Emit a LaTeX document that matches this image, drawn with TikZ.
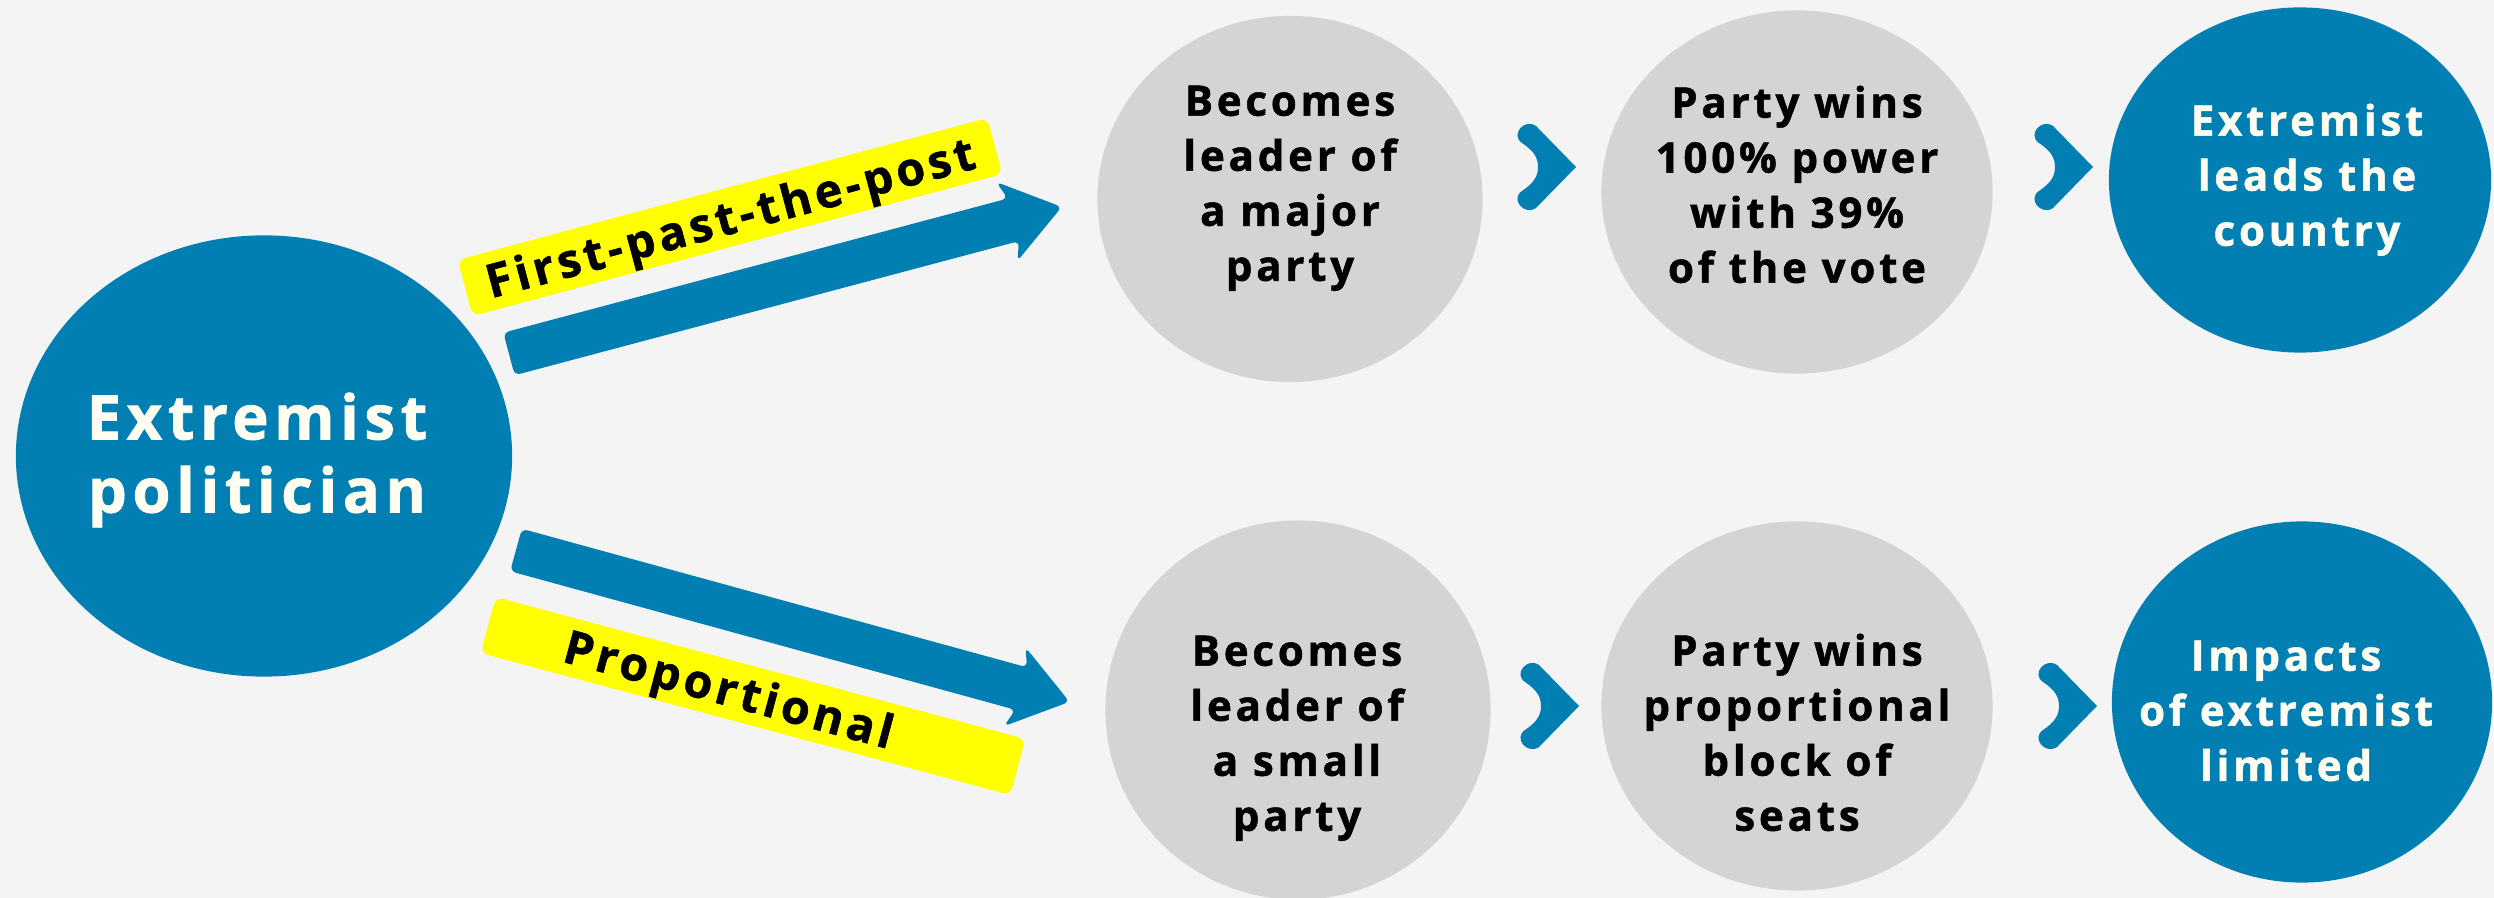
\documentclass[tikz,border=0pt]{standalone}
\usepackage{fontspec}
\setmainfont{Open Sans}[LetterSpace=9, BoldFeatures={FakeBold=1.2}]
\usetikzlibrary{shapes.geometric}
\definecolor{bg}{RGB}{244,244,244}
\definecolor{eblue}{RGB}{2,127,178}
\definecolor{egray}{RGB}{211,212,214}
\definecolor{eyellow}{RGB}{255,255,0}
\definecolor{ecream}{RGB}{255,254,240}
\tikzset{
  pics/fatarrow/.style={code={
    \fill[eblue, rounded corners=0.06cm] (0,-22) -- (#1-50,-22) -- (#1-57,-41) -- (#1,0) -- (#1-57,41) -- (#1-50,22) -- (0,22) -- cycle;}},
  pics/chev/.style={code={
    \fill[eblue] (-40,-41) -- (0,0) -- (-40,41)
      .. controls (-52,49) and (-66,32) .. (-54,24)
      .. controls (-42,16) and (-38,9) .. (-38,0)
      .. controls (-38,-9) and (-42,-16) .. (-54,-24)
      .. controls (-66,-32) and (-52,-49) .. (-40,-41) -- cycle;}}
}
\begin{document}
\begin{tikzpicture}[x=0.01cm, y=-0.01cm,
  bubble/.style={ellipse, inner sep=0pt, draw=none},
  graybub/.style={bubble, fill=egray},
  bluebub/.style={bubble, fill=eblue},
  smalltext/.style={align=center, inner sep=0pt, anchor=north, font=\bfseries\fontsize{11.95pt}{15.65pt}\selectfont},
  darktext/.style={smalltext, text=black},
  lighttext/.style={smalltext, text=ecream},
  bigtext/.style={align=center, inner sep=0pt, anchor=north, text=ecream, font=\bfseries\fontsize{17.5pt}{20.8pt}\selectfont},
  labelbox/.style={fill=eyellow, rounded corners=0.08cm, minimum width=5.48cm, minimum height=0.58cm, inner sep=0pt},
  labeltext/.style={inner sep=0pt, text height=0.335cm, text depth=0pt, font=\bfseries\fontsize{13.2pt}{16pt}\selectfont}
]
\useasboundingbox (0,0) rectangle (2494,898);
\fill[bg] (0,0) rectangle (2494,898);

% source circle
\node[bluebub, minimum width=4.96cm, minimum height=4.41cm] (ep) at (264,456) {};
\node[bigtext] (eptxt) at (257,392) {Extremist\\politician};

% top row
\node[graybub, minimum width=3.85cm, minimum height=3.66cm] (t1) at (1290,199) {};
\node[graybub, minimum width=3.91cm, minimum height=3.63cm] (t2) at (1797,192) {};
\node[bluebub, minimum width=3.82cm, minimum height=3.45cm] (t3) at (2300,180) {};
\node[darktext] (t1txt) at (1290,85) {Becomes\\leader of\\a major\\party};
\node[darktext] (t2txt) at (1797,85) {Party wins\\100\% power\\with 39\%\\of the vote};
\node[lighttext] (t3txt) at (2307,103) {Extremist\\leads the\\country};

% bottom row
\node[graybub, minimum width=3.85cm, minimum height=3.79cm] (b1) at (1298,710) {};
\node[graybub, minimum width=3.91cm, minimum height=3.69cm] (b2) at (1797,706) {};
\node[bluebub, minimum width=3.80cm, minimum height=3.61cm] (b3) at (2302,702) {};
\node[darktext] (b1txt) at (1297,635) {Becomes\\leader of\\a small\\party};
\node[darktext] (b2txt) at (1797,633) {Party wins\\proportional\\block of\\seats};
\node[lighttext] (b3txt) at (2286,640) {Impacts\\of extremist\\limited};

% big arrows
\coordinate (a1s) at (509,354);
\coordinate (a1e) at (1062,207);
\coordinate (a2s) at (516,550);
\coordinate (a2e) at (1070,702);
\pic[rotate=14.9] at (a1s) {fatarrow=572};
\pic[rotate=-15.34] at (a2s) {fatarrow=574};

% labels
\node[labelbox, rotate=15, labeltext] (lab1) at (730,217) {First-past-the-post};
\node[labelbox, rotate=-15] (lab2) at (753,696) {};
\node[labeltext, rotate=-15] (lab2txt) at (729,689) {Proportional};

% chevrons
\coordinate (c1) at (1576,167);
\coordinate (c2) at (2093,167);
\coordinate (c3) at (1579,706);
\coordinate (c4) at (2097,706);
\pic at (c1) {chev};
\pic at (c2) {chev};
\pic at (c3) {chev};
\pic at (c4) {chev};
\end{tikzpicture}
\end{document}
